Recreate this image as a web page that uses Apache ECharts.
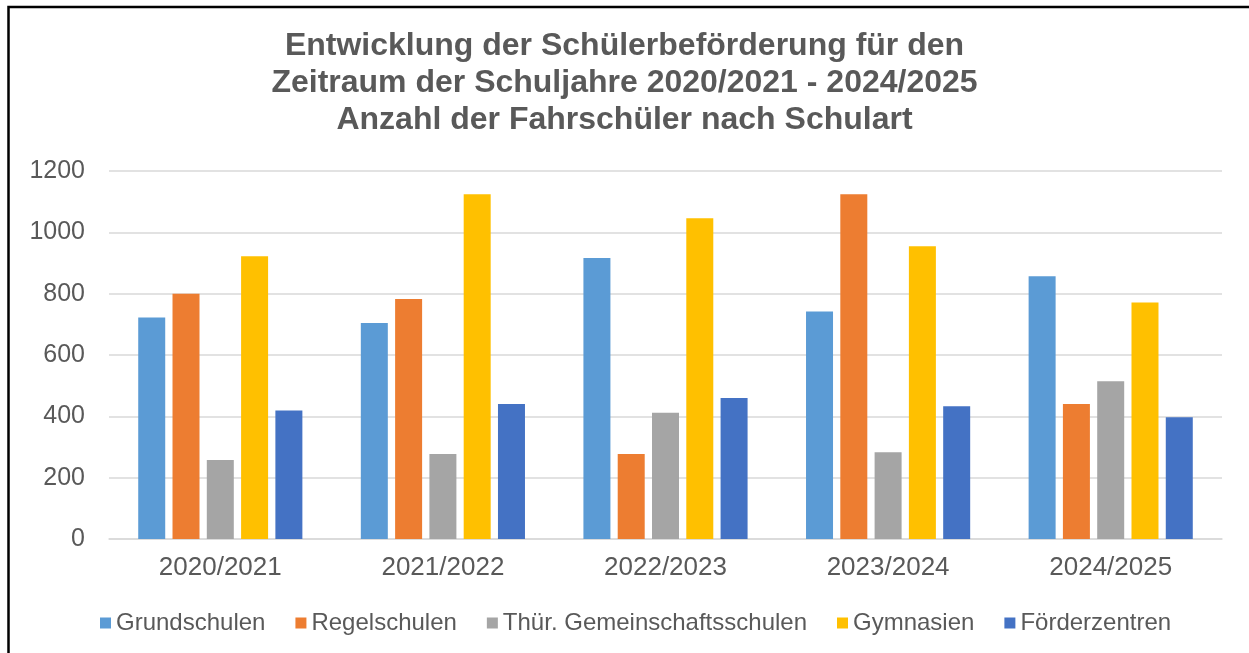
<!DOCTYPE html>
<html>
<head>
<meta charset="utf-8">
<script src="https://cdn.jsdelivr.net/npm/echarts@6/dist/echarts.min.js"></script>
<style>
  html, body { margin: 0; padding: 0; background: #fff; }
  #chart { width: 1249px; height: 653px; }
</style>
</head>
<body>
<div id="chart"></div>
<script>
const years = ['2020/2021', '2021/2022', '2022/2023', '2023/2024', '2024/2025'];
const seriesNames = ['Grundschulen', 'Regelschulen', 'Thür. Gemeinschaftsschulen', 'Gymnasien', 'Förderzentren'];
const seriesColors = ['#5B9BD5', '#ED7D31', '#A5A5A5', '#FFC000', '#4472C4'];
const grundschulen = [722, 704, 916, 742, 857];
const regelschulen = [800, 783, 277, 1124, 440];
const gemeinschaftsschulen = [258, 277, 412, 283, 514];
const gymnasien = [922, 1124, 1046, 955, 771];
const foerderzentren = [419, 440, 460, 433, 397];
const yTicks = { min: 0, max: 1200, interval: 200 };

const seriesValues = [grundschulen, regelschulen, gemeinschaftsschulen, gymnasien, foerderzentren];
const textColor = '#595959';
const fontFamily = '"Liberation Sans", Arial, sans-serif';

const chart = echarts.init(document.getElementById('chart'));

chart.setOption({
  animation: false,
  backgroundColor: '#fff',
  title: {
    text: 'Entwicklung der Schülerbeförderung für den\nZeitraum der Schuljahre 2020/2021 - 2024/2025\nAnzahl der Fahrschüler nach Schulart',
    left: 'center',
    top: 28,
    padding: [0, 0, 0, 7],
    textStyle: {
      fontFamily,
      fontSize: 32,
      fontWeight: 'bold',
      lineHeight: 37,
      color: textColor,
    },
  },
  graphic: [
    {
      type: 'rect',
      shape: { x: 8.5, y: 7, width: 1300, height: 700 },
      style: { fill: 'none', stroke: '#000', lineWidth: 2.5 },
      silent: true,
    },
  ],
  legend: {
    data: seriesNames,
    left: 100,
    top: 610,
    padding: 0,
    itemWidth: 11,
    itemHeight: 11,
    itemGap: 30,
    icon: 'rect',
    textStyle: {
      fontFamily,
      fontSize: 24,
      lineHeight: 26,
      color: textColor,
    },
  },
  grid: {
    left: 109,
    right: 27,
    top: 171,
    bottom: 114,
  },
  xAxis: {
    type: 'category',
    data: years,
    axisLine: { lineStyle: { color: '#d9d9d9', width: 1.5 } },
    axisTick: { show: false },
    axisLabel: {
      fontFamily,
      fontSize: 26,
      color: textColor,
      margin: 16,
    },
  },
  yAxis: {
    type: 'value',
    min: yTicks.min,
    max: yTicks.max,
    interval: yTicks.interval,
    axisLine: { show: false },
    axisTick: { show: false },
    axisLabel: {
      fontFamily,
      fontSize: 25,
      color: textColor,
      margin: 24,
      formatter: (value) => String(value),
    },
    splitLine: { lineStyle: { color: '#d9d9d9', width: 1.5 } },
  },
  series: seriesNames.map((name, i) => ({
    type: 'bar',
    name,
    data: seriesValues[i],
    barWidth: 27,
    barGap: '27%',
    itemStyle: { color: seriesColors[i] },
  })),
});

window.addEventListener('resize', () => {
  chart.resize();
});
</script>
</body>
</html>
